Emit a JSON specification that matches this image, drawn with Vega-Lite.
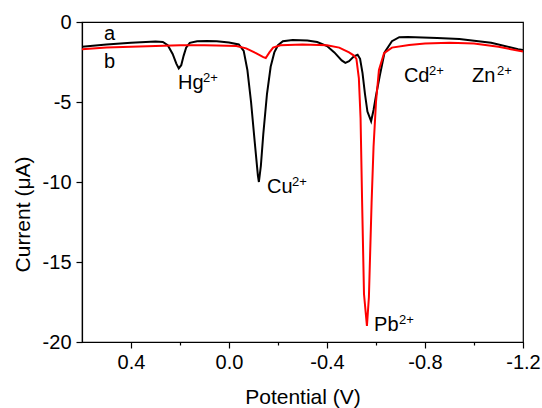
{
  "$schema": "https://vega.github.io/schema/vega-lite/v6.json",
  "width": 441,
  "height": 320,
  "autosize": "none",
  "padding": {"left": 82, "top": 22, "right": 19, "bottom": 66},
  "background": "white",
  "config": {
    "view": {"stroke": "black", "strokeWidth": 1.2},
    "font": "Liberation Sans",
    "axis": {
      "grid": false,
      "domainColor": "black",
      "domainWidth": 1.2,
      "tickColor": "black",
      "tickWidth": 1.2,
      "labelColor": "black",
      "labelFont": "Liberation Sans",
      "labelFontSize": 20,
      "labelFlush": false,
      "labelOverlap": false,
      "labelBound": false,
      "titleColor": "black",
      "titleFont": "Liberation Sans",
      "titleFontSize": 21,
      "titleFontWeight": "normal"
    }
  },
  "datasets": {
    "curves": [
      {"curve": "a", "V": 0.6, "I": -1.55},
      {"curve": "a", "V": 0.5, "I": -1.4},
      {"curve": "a", "V": 0.4, "I": -1.3},
      {"curve": "a", "V": 0.3, "I": -1.22},
      {"curve": "a", "V": 0.27, "I": -1.25},
      {"curve": "a", "V": 0.25, "I": -1.45},
      {"curve": "a", "V": 0.23, "I": -2.0},
      {"curve": "a", "V": 0.215, "I": -2.6},
      {"curve": "a", "V": 0.205, "I": -2.9},
      {"curve": "a", "V": 0.195, "I": -2.7},
      {"curve": "a", "V": 0.185, "I": -2.1},
      {"curve": "a", "V": 0.175, "I": -1.6},
      {"curve": "a", "V": 0.16, "I": -1.3},
      {"curve": "a", "V": 0.13, "I": -1.2},
      {"curve": "a", "V": 0.09, "I": -1.18},
      {"curve": "a", "V": 0.05, "I": -1.2},
      {"curve": "a", "V": 0.0, "I": -1.28},
      {"curve": "a", "V": -0.04, "I": -1.4},
      {"curve": "a", "V": -0.06, "I": -1.8},
      {"curve": "a", "V": -0.075, "I": -3.0},
      {"curve": "a", "V": -0.09, "I": -5.0},
      {"curve": "a", "V": -0.105, "I": -7.5},
      {"curve": "a", "V": -0.118, "I": -9.6},
      {"curve": "a", "V": -0.122, "I": -10.0},
      {"curve": "a", "V": -0.13, "I": -9.0},
      {"curve": "a", "V": -0.14, "I": -7.0},
      {"curve": "a", "V": -0.155, "I": -4.5},
      {"curve": "a", "V": -0.17, "I": -2.8},
      {"curve": "a", "V": -0.185, "I": -1.9},
      {"curve": "a", "V": -0.2, "I": -1.45},
      {"curve": "a", "V": -0.22, "I": -1.2},
      {"curve": "a", "V": -0.26, "I": -1.12},
      {"curve": "a", "V": -0.32, "I": -1.15},
      {"curve": "a", "V": -0.36, "I": -1.25},
      {"curve": "a", "V": -0.4, "I": -1.5},
      {"curve": "a", "V": -0.43, "I": -1.9},
      {"curve": "a", "V": -0.46, "I": -2.4},
      {"curve": "a", "V": -0.475, "I": -2.55},
      {"curve": "a", "V": -0.49, "I": -2.45},
      {"curve": "a", "V": -0.51, "I": -2.15},
      {"curve": "a", "V": -0.525, "I": -2.05},
      {"curve": "a", "V": -0.535, "I": -2.3},
      {"curve": "a", "V": -0.545, "I": -3.2},
      {"curve": "a", "V": -0.555, "I": -4.5},
      {"curve": "a", "V": -0.565, "I": -5.6},
      {"curve": "a", "V": -0.58, "I": -6.2},
      {"curve": "a", "V": -0.59, "I": -5.5},
      {"curve": "a", "V": -0.6, "I": -4.6},
      {"curve": "a", "V": -0.615, "I": -3.4},
      {"curve": "a", "V": -0.635, "I": -1.9},
      {"curve": "a", "V": -0.665, "I": -1.2},
      {"curve": "a", "V": -0.695, "I": -0.95},
      {"curve": "a", "V": -0.73, "I": -0.93},
      {"curve": "a", "V": -0.85, "I": -1.0},
      {"curve": "a", "V": -0.94, "I": -1.06},
      {"curve": "a", "V": -1.07, "I": -1.3},
      {"curve": "a", "V": -1.18, "I": -1.7},
      {"curve": "a", "V": -1.2, "I": -1.75},
      {"curve": "b", "V": 0.6, "I": -1.7},
      {"curve": "b", "V": 0.5, "I": -1.6},
      {"curve": "b", "V": 0.4, "I": -1.55},
      {"curve": "b", "V": 0.3, "I": -1.5},
      {"curve": "b", "V": 0.2, "I": -1.46},
      {"curve": "b", "V": 0.1, "I": -1.45},
      {"curve": "b", "V": 0.05, "I": -1.47},
      {"curve": "b", "V": -0.03, "I": -1.5},
      {"curve": "b", "V": -0.07, "I": -1.65},
      {"curve": "b", "V": -0.11, "I": -1.95},
      {"curve": "b", "V": -0.14, "I": -2.2},
      {"curve": "b", "V": -0.15, "I": -2.25},
      {"curve": "b", "V": -0.165, "I": -1.9},
      {"curve": "b", "V": -0.18, "I": -1.6},
      {"curve": "b", "V": -0.21, "I": -1.45},
      {"curve": "b", "V": -0.3, "I": -1.4},
      {"curve": "b", "V": -0.4, "I": -1.45},
      {"curve": "b", "V": -0.45, "I": -1.6},
      {"curve": "b", "V": -0.49, "I": -1.9},
      {"curve": "b", "V": -0.51, "I": -2.1},
      {"curve": "b", "V": -0.52, "I": -2.3},
      {"curve": "b", "V": -0.53, "I": -3.5},
      {"curve": "b", "V": -0.537, "I": -6.0},
      {"curve": "b", "V": -0.543, "I": -11.0},
      {"curve": "b", "V": -0.551, "I": -17.0},
      {"curve": "b", "V": -0.563, "I": -19.0},
      {"curve": "b", "V": -0.571, "I": -17.2},
      {"curve": "b", "V": -0.582, "I": -11.3},
      {"curve": "b", "V": -0.59, "I": -7.8},
      {"curve": "b", "V": -0.6, "I": -5.0},
      {"curve": "b", "V": -0.612, "I": -3.0},
      {"curve": "b", "V": -0.633, "I": -1.95},
      {"curve": "b", "V": -0.665, "I": -1.6},
      {"curve": "b", "V": -0.735, "I": -1.44},
      {"curve": "b", "V": -0.8, "I": -1.35},
      {"curve": "b", "V": -0.9, "I": -1.3},
      {"curve": "b", "V": -1.0, "I": -1.35},
      {"curve": "b", "V": -1.1, "I": -1.55},
      {"curve": "b", "V": -1.2, "I": -1.85}
    ],
    "labels": [
      {"V": 0.51, "I": -1.125, "base": "a", "sup": ""},
      {"V": 0.51, "I": -2.875, "base": "b", "sup": ""},
      {"V": 0.208, "I": -4.19, "base": "Hg", "sup": "2+"},
      {"V": -0.155, "I": -10.69, "base": "Cu", "sup": "2+"},
      {"V": -0.592, "I": -19.31, "base": "Pb", "sup": "2+"},
      {"V": -0.714, "I": -3.75, "base": "Cd", "sup": "2+"},
      {"V": -0.992, "I": -3.75, "base": "Zn", "sup": "2+"}
    ]
  },
  "layer": [
    {
      "data": {"name": "curves"},
      "mark": {"type": "line", "strokeWidth": 2, "clip": true},
      "encoding": {
        "x": {
          "field": "V",
          "type": "quantitative",
          "scale": {"domain": [0.6, -1.2], "nice": false, "zero": false},
          "axis": {
            "title": "Potential (V)",
            "values": [0.4, 0.2, 0, -0.2, -0.4, -0.6, -0.8, -1, -1.2],
            "labelExpr": "abs(round(datum.value*10)) % 4 == 0 ? (datum.value < 0 ? '-' : '') + format(abs(datum.value), '.1f') : ''",
            "tickSize": {"condition": {"test": "abs(round(datum.value*10)) % 4 == 0", "value": 6}, "value": 3},
            "labelPadding": 4,
            "titleBaseline": "alphabetic",
            "titleY": 61
          }
        },
        "y": {
          "field": "I",
          "type": "quantitative",
          "scale": {"domain": [-20, 0], "nice": false, "zero": false},
          "axis": {
            "title": "Current (μA)",
            "values": [0, -2.5, -5, -7.5, -10, -12.5, -15, -17.5, -20],
            "labelExpr": "abs(round(datum.value*2)) % 10 == 0 ? datum.value + '' : ''",
            "tickSize": {"condition": {"test": "abs(round(datum.value*2)) % 10 == 0", "value": 6}, "value": 3},
            "labelPadding": 5,
            "titleBaseline": "alphabetic",
            "titleX": -53,
            "titleY": 192
          }
        },
        "color": {
          "field": "curve",
          "type": "nominal",
          "scale": {"domain": ["a", "b"], "range": ["#000000", "#ff0000"]},
          "legend": null
        }
      }
    },
    {
      "data": {"name": "labels"},
      "mark": {"type": "text", "align": "left", "baseline": "alphabetic", "fontSize": 20, "font": "Liberation Sans", "color": "black"},
      "encoding": {
        "x": {"field": "V", "type": "quantitative"},
        "y": {"field": "I", "type": "quantitative"},
        "text": {"field": "base"}
      }
    },
    {
      "data": {"name": "labels"},
      "transform": [{"filter": "datum.sup != ''"}],
      "mark": {"type": "text", "align": "left", "baseline": "alphabetic", "fontSize": 13, "font": "Liberation Sans", "color": "black", "dx": 25, "dy": -7},
      "encoding": {
        "x": {"field": "V", "type": "quantitative"},
        "y": {"field": "I", "type": "quantitative"},
        "text": {"field": "sup"}
      }
    }
  ]
}
